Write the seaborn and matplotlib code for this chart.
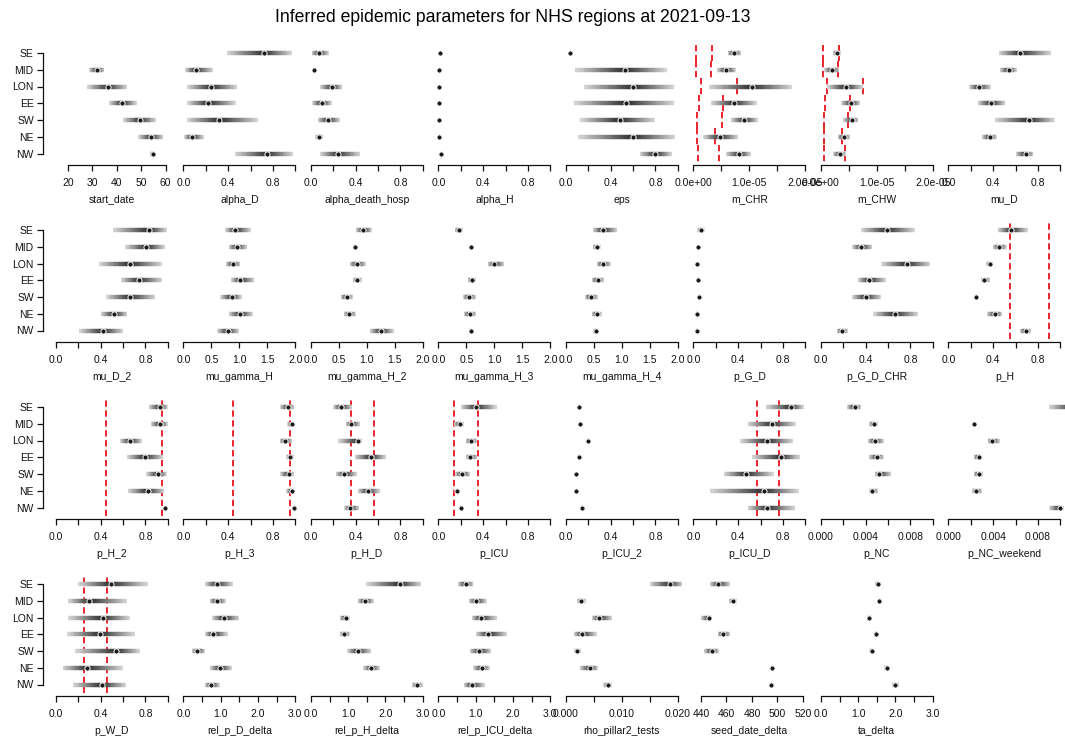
import numpy as np
import pandas as pd
import matplotlib
matplotlib.use("Agg")
import matplotlib.pyplot as plt
from matplotlib.collections import LineCollection
import seaborn as sns

# ---------------- data ----------------
regions = ["SE", "MID", "LON", "EE", "SW", "NE", "NW"]

# each parameter: lower bound, median, upper bound per region (order as regions)
start_date = {"lo": [2, 28.7, 27.9, 36.9, 42.6, 48.8, 53.4],
              "med": [8, 31.7, 36.5, 42.1, 49.5, 54.0, 54.9],
              "hi": [13.5, 34.9, 44.0, 48.1, 55.9, 59.0, 55.7]}
alpha_D = {"lo": [.39, .015, .035, .035, .03, .006, .46],
           "med": [.72, .11, .25, .22, .32, .08, .75],
           "hi": [.97, .26, .48, .47, .67, .18, .98]}
alpha_death_hosp = {"lo": [.006, .015, .08, .012, .06, .04, .08],
                    "med": [.07, .03, .19, .095, .15, .075, .24],
                    "hi": [.16, .05, .28, .185, .26, .11, .44]}
alpha_H = {"lo": [.012, .006, .006, .006, .006, .006, .02],
           "med": [.018, .009, .009, .009, .009, .009, .027],
           "hi": [.024, .012, .012, .012, .012, .012, .034]}
eps = {"lo": [.03, .083, .16, .074, .13, .11, .66],
       "med": [.036, .53, .60, .54, .48, .60, .80],
       "hi": [.042, .90, .97, .97, .80, .98, .95]}
m_CHR = {"lo": [.61e-5, .42e-5, .27e-5, .31e-5, .67e-5, .17e-5, .58e-5],
         "med": [.72e-5, .59e-5, 1.04e-5, .73e-5, .91e-5, .47e-5, .82e-5],
         "hi": [.85e-5, .76e-5, 1.77e-5, 1.13e-5, 1.15e-5, .79e-5, 1.03e-5]}
m_CHW = {"lo": [.21e-5, .06e-5, .10e-5, .36e-5, .40e-5, .30e-5, .22e-5],
         "med": [.28e-5, .20e-5, .44e-5, .54e-5, .55e-5, .41e-5, .34e-5],
         "hi": [.36e-5, .33e-5, .76e-5, .70e-5, .67e-5, .52e-5, .44e-5]}
mu_D = {"lo": [.45, .46, .185, .26, .42, .30, .60],
        "med": [.64, .54, .27, .38, .72, .37, .69],
        "hi": [.92, .61, .38, .51, .95, .43, .76]}
mu_D_2 = {"lo": [.51, .62, .385, .58, .45, .40, .21],
          "med": [.83, .81, .66, .74, .66, .52, .42],
          "hi": [.99, .98, .95, .95, .89, .64, .60]}
mu_gamma_H = {"lo": [.75, .81, .76, .85, .66, .81, .60],
              "med": [.93, .95, .88, 1.02, .86, 1.01, .79],
              "hi": [1.21, 1.14, 1.02, 1.27, 1.04, 1.24, 1.0]}
mu_gamma_H_2 = {"lo": [.80, .75, .69, .75, .53, .59, 1.05],
                "med": [.94, .78, .82, .82, .64, .68, 1.25],
                "hi": [1.09, .81, .98, .91, .75, .80, 1.48]}
mu_gamma_H_3 = {"lo": [.29, .55, .88, .52, .44, .45, .55],
                "med": [.36, .58, 1.0, .60, .54, .56, .58],
                "hi": [.44, .61, 1.18, .68, .67, .67, .61]}
mu_gamma_H_4 = {"lo": [.48, .48, .55, .46, .34, .46, .49],
                "med": [.66, .55, .66, .57, .44, .55, .53],
                "hi": [.92, .62, .80, .68, .57, .64, .58]}
p_G_D = {"lo": [.035, .03, .028, .03, .045, .022, .022],
         "med": [.068, .04, .035, .04, .053, .03, .03],
         "hi": [.10, .05, .042, .05, .062, .038, .038]}
p_G_D_CHR = {"lo": [.36, .28, .54, .33, .28, .47, .14],
             "med": [.59, .36, .77, .43, .40, .66, .19],
             "hi": [.84, .46, .98, .58, .54, .87, .24]}
p_H = {"lo": [.44, .40, .34, .29, .24, .345, .64],
       "med": [.56, .45, .37, .32, .25, .42, .69],
       "hi": [.71, .52, .40, .37, .26, .48, .74]}
p_H_2 = {"lo": [.83, .85, .575, .64, .81, .645, .965],
         "med": [.93, .93, .66, .80, .91, .82, .975],
         "hi": [1.0, 1.0, .77, .96, .99, .97, .985]}
p_H_3 = {"lo": [.865, .93, .86, .92, .865, .92, .985],
         "med": [.935, .97, .91, .957, .94, .97, .99],
         "hi": [.99, .99, .97, .99, .99, .99, .995]}
p_H_D = {"lo": [.20, .31, .245, .39, .22, .42, .30],
         "med": [.27, .36, .42, .535, .30, .51, .35],
         "hi": [.37, .44, .46, .67, .41, .615, .43]}
p_ICU = {"lo": [.20, .14, .245, .245, .15, .16, .19],
         "med": [.34, .19, .29, .285, .21, .17, .20],
         "hi": [.52, .23, .345, .345, .285, .18, .21]}
p_ICU_2 = {"lo": [.11, .12, .19, .11, .085, .09, .135],
           "med": [.115, .124, .20, .115, .09, .094, .14],
           "hi": [.12, .128, .21, .12, .095, .098, .145]}
p_ICU_D = {"lo": [.65, .485, .42, .525, .27, .15, .485],
           "med": [.87, .70, .66, .78, .47, .63, .66],
           "hi": [.985, .915, .89, .95, .72, .94, .91]}
p_NC = {"lo": [.0023, .0043, .0042, .0043, .0048, .0043, .0108],
        "med": [.00305, .00473, .0048, .0050, .0052, .0046, .0118],
        "hi": [.0036, .0051, .0056, .0056, .0063, .0051, .0130]}
p_NC_weekend = {"lo": [.0090, .0022, .0035, .00225, .00225, .0021, .0090],
                "med": [.0112, .00228, .00386, .0027, .0027, .0025, .00994],
                "hi": [.0130, .00236, .0046, .0029, .0031, .0030, .0103]}
p_W_D = {"lo": [.20, .11, .11, .10, .17, .06, .15],
         "med": [.49, .30, .42, .39, .54, .28, .41],
         "hi": [.82, .64, .66, .71, .75, .60, .63]}
rel_p_D_delta = {"lo": [.58, .70, .77, .58, .23, .71, .58],
                 "med": [.90, .90, 1.08, .79, .37, .98, .74],
                 "hi": [1.33, 1.14, 1.50, 1.19, .58, 1.30, .98]}
rel_p_H_delta = {"lo": [1.49, 1.25, .77, .77, .98, 1.41, 2.71],
                 "med": [2.39, 1.46, .93, .90, 1.25, 1.62, 2.85],
                 "hi": [2.95, 1.68, 1.04, 1.04, 1.62, 1.84, 3.0]}
rel_p_ICU_delta = {"lo": [.52, .81, .89, 1.0, .84, .94, .68],
                   "med": [.73, 1.02, 1.13, 1.34, 1.10, 1.16, .89],
                   "hi": [.94, 1.29, 1.56, 1.85, 1.42, 1.37, 1.24]}
rho_pillar2_tests = {"lo": [.015, .002, .0046, .0014, .0014, .0025, .0067],
                     "med": [.0186, .0027, .0060, .0029, .0020, .0043, .0076],
                     "hi": [.0209, .0035, .0083, .0055, .0027, .0057, .0082]}
seed_date_delta = {"lo": [447, 462, 440, 453, 442, 495, 494],
                   "med": [453.5, 465, 446, 457, 449, 496, 495],
                   "hi": [463, 468, 449, 463, 454, 497, 496]}
ta_delta = {"lo": [1.45, 1.52, 1.24, 1.42, 1.30, 1.70, 1.90],
            "med": [1.52, 1.57, 1.30, 1.47, 1.36, 1.76, 2.00],
            "hi": [1.60, 1.62, 1.36, 1.52, 1.42, 1.82, 2.10]}

# prior bounds drawn as red dashed lines
prior_lines = {"p_H": [0.55, 0.90], "p_H_2": [0.45, 0.945], "p_H_3": [0.447, 0.95],
               "p_H_D": [0.358, 0.56], "p_ICU": [0.14, 0.355],
               "p_ICU_D": [0.567, 0.764], "p_W_D": [0.25, 0.457]}
m_CHR_prior_lo = [.05e-5, .05e-5, .13e-5, .10e-5, .07e-5, .06e-5, .08e-5]
m_CHR_prior_hi = [.33e-5, .31e-5, .78e-5, .53e-5, .51e-5, .38e-5, .45e-5]
m_CHW_prior_lo = [.04e-5, .04e-5, .11e-5, .08e-5, .06e-5, .06e-5, .06e-5]
m_CHW_prior_hi = [.32e-5, .30e-5, .76e-5, .52e-5, .49e-5, .37e-5, .43e-5]
region_priors = {"m_CHR": (m_CHR_prior_lo, m_CHR_prior_hi),
                 "m_CHW": (m_CHW_prior_lo, m_CHW_prior_hi)}

params = {
    "start_date": start_date, "alpha_D": alpha_D, "alpha_death_hosp": alpha_death_hosp,
    "alpha_H": alpha_H, "eps": eps, "m_CHR": m_CHR, "m_CHW": m_CHW, "mu_D": mu_D,
    "mu_D_2": mu_D_2, "mu_gamma_H": mu_gamma_H, "mu_gamma_H_2": mu_gamma_H_2,
    "mu_gamma_H_3": mu_gamma_H_3, "mu_gamma_H_4": mu_gamma_H_4, "p_G_D": p_G_D,
    "p_G_D_CHR": p_G_D_CHR, "p_H": p_H, "p_H_2": p_H_2, "p_H_3": p_H_3,
    "p_H_D": p_H_D, "p_ICU": p_ICU, "p_ICU_2": p_ICU_2, "p_ICU_D": p_ICU_D,
    "p_NC": p_NC, "p_NC_weekend": p_NC_weekend, "p_W_D": p_W_D,
    "rel_p_D_delta": rel_p_D_delta, "rel_p_H_delta": rel_p_H_delta,
    "rel_p_ICU_delta": rel_p_ICU_delta, "rho_pillar2_tests": rho_pillar2_tests,
    "seed_date_delta": seed_date_delta, "ta_delta": ta_delta,
}

layout = [
    ["start_date", "alpha_D", "alpha_death_hosp", "alpha_H", "eps", "m_CHR", "m_CHW", "mu_D"],
    ["mu_D_2", "mu_gamma_H", "mu_gamma_H_2", "mu_gamma_H_3", "mu_gamma_H_4", "p_G_D", "p_G_D_CHR", "p_H"],
    ["p_H_2", "p_H_3", "p_H_D", "p_ICU", "p_ICU_2", "p_ICU_D", "p_NC", "p_NC_weekend"],
    ["p_W_D", "rel_p_D_delta", "rel_p_H_delta", "rel_p_ICU_delta", "rho_pillar2_tests",
     "seed_date_delta", "ta_delta"],
]

# ---------------- axis styles ----------------
ax_unit = dict(xlim=(-0.04, 1.04), ticks=[0, .2, .4, .6, .8, 1.0],
               labels=["0.0", "", "0.4", "", "0.8", ""])
ax_two = dict(xlim=(-0.08, 2.08), ticks=[0, .5, 1, 1.5, 2],
              labels=["0.0", "0.5", "1.0", "1.5", "2.0"])
ax_three = dict(xlim=(-0.12, 3.12), ticks=[0, .5, 1, 1.5, 2, 2.5, 3],
                labels=["0.0", "", "1.0", "", "2.0", "", "3.0"])
ax_mch = dict(xlim=(-0.08e-5, 2.08e-5), ticks=[0, .5e-5, 1e-5, 1.5e-5, 2e-5],
              labels=["0.0e+00", "", "1.0e-05", "", "2.0e-05"])
ax_pnc = dict(xlim=(-0.0004, 0.0104), ticks=[0, .002, .004, .006, .008, .010],
              labels=["0.000", "", "0.004", "", "0.008", ""])
ax_rho = dict(xlim=(-0.0008, 0.0208), ticks=[0, .005, .010, .015, .020],
              labels=["0.000", "", "0.010", "", "0.020"])
ax_start = dict(xlim=(13.24, 62.66), ticks=[20, 30, 40, 50, 60],
                labels=["20", "30", "40", "50", "60"])
ax_seed = dict(xlim=(430.6, 525.3), ticks=[440, 460, 480, 500, 520],
               labels=["440", "460", "480", "500", "520"])
axis_style = {name: ax_unit for name in params}
axis_style.update({"start_date": ax_start, "m_CHR": ax_mch, "m_CHW": ax_mch,
                   "mu_gamma_H": ax_two, "mu_gamma_H_2": ax_two, "mu_gamma_H_3": ax_two,
                   "mu_gamma_H_4": ax_two, "p_NC": ax_pnc, "p_NC_weekend": ax_pnc,
                   "rel_p_D_delta": ax_three, "rel_p_H_delta": ax_three,
                   "rel_p_ICU_delta": ax_three, "rho_pillar2_tests": ax_rho,
                   "seed_date_delta": ax_seed, "ta_delta": ax_three})

# ---------------- figure ----------------
sns.set_theme(style="ticks")
plt.rcParams["font.family"] = ["Liberation Sans", "DejaVu Sans"]
FS = 7.5
plt.rcParams["xtick.labelsize"] = FS
plt.rcParams["ytick.labelsize"] = FS

W, H = 1065, 740
fig = plt.figure(figsize=(W / 100, H / 100), dpi=100)
fig.patch.set_facecolor("white")

se_y = [53, 230, 407, 584]
pitch = 16.75
ax_h = 7 * pitch
col_left0, col_pitch, ax_w = 51.5, 127.5, 120.7
RED = "#e8141c"


def draw_gradient(ax, df):
    segs, cols = [], []
    n = 18
    for _, r in df.iterrows():
        for a, b in ((r["lo"], r["med"]), (r["hi"], r["med"])):
            edges = np.linspace(a, b, n + 1)
            for k in range(n):
                segs.append([(edges[k], r["y"]), (edges[k + 1], r["y"])])
                t = (k + 0.5) / n
                g = 0.85 - 0.68 * t
                cols.append((g, g, g))
    lc = LineCollection(segs, colors=cols, linewidths=3.2, capstyle="butt", zorder=2)
    ax.add_collection(lc)


for ri, row in enumerate(layout):
    for ci, name in enumerate(row):
        left = col_left0 + ci * col_pitch
        top = se_y[ri] - pitch / 2
        ax = fig.add_axes([left / W, 1 - (top + ax_h) / H, ax_w / W, ax_h / H])
        ax.set_facecolor("none")
        d = params[name]
        df = pd.DataFrame({"region": regions, "y": np.arange(1, 8),
                           "lo": d["lo"], "med": d["med"], "hi": d["hi"]})
        st = axis_style[name]
        ax.set_xlim(*st["xlim"])
        ax.set_ylim(7.5, 0.5)

        draw_gradient(ax, df)

        if name in prior_lines:
            for v in prior_lines[name]:
                ax.axvline(v, color=RED, lw=1.3, ls=(0, (3.5, 2.0)), zorder=1)
        if name in region_priors:
            plo, phi = region_priors[name]
            for yi in range(7):
                for arr in (plo, phi):
                    ax.plot([arr[yi], arr[yi]], [yi + 0.5, yi + 1.5], color=RED,
                            lw=1.3, ls=(0, (3.5, 2.0)), zorder=1)

        sns.scatterplot(data=df, x="med", y="y", ax=ax, color="#1a1a1a", s=14,
                        marker="o", edgecolor="white", linewidth=0.7, zorder=3,
                        legend=False)

        ax.set_xticks(st["ticks"])
        ax.set_xticklabels(st["labels"])
        ax.spines["bottom"].set_bounds(st["ticks"][0], st["ticks"][-1])
        ax.spines["bottom"].set_position(("outward", 2.5))
        for s in ("top", "right"):
            ax.spines[s].set_visible(False)
        ax.spines["bottom"].set_linewidth(0.9)
        ax.spines["bottom"].set_color("#111111")
        ax.tick_params(axis="x", length=4.3, width=0.9, pad=5.0, colors="#111111",
                       labelcolor="#111111", labelsize=FS)
        ax.set_xlabel(name, fontsize=FS, labelpad=4.5, color="#111111")
        ax.set_ylabel("")

        if ci == 0:
            ax.spines["left"].set_bounds(1, 7)
            ax.spines["left"].set_position(("outward", 6))
            ax.spines["left"].set_linewidth(0.9)
            ax.spines["left"].set_color("#111111")
            ax.set_yticks(np.arange(1, 8))
            ax.set_yticklabels(regions)
            ax.tick_params(axis="y", length=4.3, width=0.9, pad=2.5, colors="#111111",
                           labelsize=FS)
        else:
            ax.spines["left"].set_visible(False)
            ax.set_yticks([])

fig.text(513 / W, 1 - 18 / H, "Inferred epidemic parameters for NHS regions at 2021-09-13",
         ha="center", va="center", fontsize=12.7, color="black")

fig.savefig("out.png", dpi=100, facecolor="white")
